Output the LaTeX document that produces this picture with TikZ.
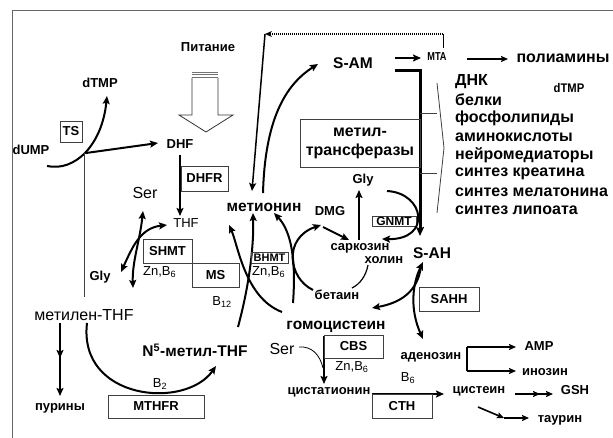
\documentclass[tikz,border=0pt]{standalone}
\usepackage{fontspec}
\setmainfont{Liberation Sans}
\usetikzlibrary{arrows.meta}
\tikzset{
  lb/.style={font=\bfseries\fontsize{13}{15}\selectfont, inner sep=0pt},
  lbb/.style={font=\bfseries\fontsize{15.5}{17}\selectfont, inner sep=0pt},
  lbl/.style={font=\bfseries\fontsize{16}{18.4}\selectfont, inner sep=0pt, anchor=west},
  rg/.style={font=\fontsize{16}{18}\selectfont, inner sep=0pt},
  rgs/.style={font=\fontsize{13}{15}\selectfont, inner sep=0pt},
  ebox/.style={draw=black!75, line width=0.8pt, font=\bfseries\fontsize{13}{15}\selectfont, inner sep=0pt},
  sbox/.style={draw=black!75, line width=0.8pt, font=\bfseries\fontsize{11}{12}\selectfont, inner sep=0pt},
  ar/.style={line width=2pt, -{Stealth[length=8pt,width=7pt,inset=1.5pt]}},
  dar/.style={line width=2pt, {Stealth[length=8pt,width=7pt,inset=1.5pt]}-{Stealth[length=8pt,width=7pt,inset=1.5pt]}},
  tar/.style={line width=1.6pt, -{Stealth[length=7pt,width=6pt,inset=1.2pt]}},
  thin/.style={line width=0.8pt, black!75},
}
\begin{document}
\begin{tikzpicture}[x=1pt,y=-1pt]
\useasboundingbox (0,0) rectangle (613,438);
\fill[white] (0,0) rectangle (613,438);
% frame
\draw[black!60, line width=1pt] (12,438) -- (12,11) -- (613,11);

% nutrition block arrow
\node[lb] (pit) at (208,47) {Питание};
\draw[black!55, line width=0.8pt] (192,72) -- (218,72) (192,74.5) -- (218,74.5) (192,77) -- (218,77);
\draw[black!80, line width=0.8pt] (192,78) -- (192,115) -- (179,115) -- (206,132) -- (233,115) -- (218,115) -- (218,78);

% left: dUMP / dTMP / DHF
\node[lb] (dtmp) at (100,83) {dTMP};
\node[ebox, minimum width=22, minimum height=21] (ts) at (71,131.5) {TS};
\node[lb] (dump) at (31,150) {dUMP};
\coordinate (c1) at (47,166);
\coordinate (c2) at (107,96);
\draw[ar] (c1) .. controls (75,172) and (102,145) .. (c2);
\coordinate (j1) at (84,153);
\coordinate (j2) at (84,297);
\draw[thin] (j1) -- (j2);
\node[lb] (dhf) at (180,144) {DHF};
\coordinate (d1) at (86,153);
\coordinate (d2) at (158,143);
\draw[ar] (d1) -- (d2);
\coordinate (f1) at (180,155);
\coordinate (f2) at (180,216);
\draw[ar] (f1) -- (f2);
\node[ebox, minimum width=47, minimum height=25] (dhfr) at (204.5,178.5) {DHFR};
\node[rg] (ser1) at (145,193) {Ser};
\node[rgs] (thf) at (186,223) {THF};
\coordinate (s1) at (143,211);
\coordinate (s2) at (133,288);
\draw[dar] (s1) .. controls (140,240) and (132,262) .. (s2);
\coordinate (g1) at (121,272);
\coordinate (g2) at (167,225);
\draw[dar] (g1) .. controls (132,248) and (140,228) .. (g2);
\node[ebox, minimum width=49, minimum height=24] (shmt) at (167.5,251) {SHMT};
\node[rgs, anchor=west] (zn1) at (143,272) {Zn,B\textsubscript{6}};
\node[ebox, minimum width=47, minimum height=24] (ms) at (215.5,275) {MS};
\node[rgs] (b12) at (222,302) {B\textsubscript{12}};
\node[lb] (gly1) at (100,277) {Gly};

% methylene-THF
\node[rg] (mthf) at (84,315) {метилен-THF};
\coordinate (p1) at (60,323);
\coordinate (p2) at (60,358);
\coordinate (p3) at (60,350);
\coordinate (p4) at (60,396);
\draw[ar] (p1) -- (p2);
\draw[ar] (p3) -- (p4);
\node[lb] (pur) at (60,408) {пурины};
\node[ebox, minimum width=96, minimum height=23] (mthfr) at (156,406.5) {MTHFR};
\node[rgs] (b2) at (160,384) {B\textsubscript{2}};
\coordinate (m1) at (87,323);
\coordinate (m2) at (216,366);
\draw[ar] (m1) .. controls (78,400) and (185,410) .. (m2);
\node[lbb] (n5) at (195,350) {N\textsuperscript{5}-метил-THF};

% methionine cycle
\node[lbb] (met) at (264,207) {метионин};
\coordinate (a1) at (238,327);
\coordinate (a2) at (253,213);
\draw[ar] (a1) .. controls (248,290) and (254,250) .. (a2);
\coordinate (b1) at (282,312);
\coordinate (b2p) at (229,225);
\draw[ar] (b1) .. controls (245,298) and (238,245) .. (b2p);
\coordinate (cc1) at (293,303);
\coordinate (cc2) at (274,213);
\draw[ar] (cc1) .. controls (296,262) and (292,232) .. (cc2);
\coordinate (e1) at (313,290);
\coordinate (e2) at (321,225);
\draw[ar] (e1) .. controls (288,278) and (283,238) .. (e2);
\node[sbox, minimum width=37, minimum height=11] (bhmt) at (269.5,258) {BHMT};
\node[rgs, anchor=west] (zn2) at (252,272) {Zn,B\textsubscript{6}};

\node[lb] (dmg) at (330,211) {DMG};
\coordinate (k1) at (323,227);
\coordinate (k2) at (349,240);
\draw[ar] (k1) -- (k2);
\node[lb] (sark) at (360,248) {саркозин};
\node[lb] (hol) at (384,260) {холин};
\node[lb] (bet) at (337,295) {бетаин};
\coordinate (u1) at (359,240);
\coordinate (u2) at (359,190);
\draw[ar] (u1) -- (u2);
\node[lb] (gly2) at (363,180) {Gly};
\node[sbox, font=\bfseries\fontsize{12}{13}\selectfont, minimum width=44, minimum height=10] (gnmt) at (394,221) {GNMT};
\coordinate (v1) at (387,191);
\coordinate (v2) at (382,239);
\draw[ar] (v1) .. controls (425,193) and (432,240) .. (v2);
\coordinate (h1) at (368,265);
\coordinate (h2) at (352,288);
\draw[line width=1.2pt] (h1) .. controls (366,276) and (360,284) .. (h2);

% SAM
\node[lbb] (sam) at (353,63) {S-AM};
\coordinate (w1) at (263,193);
\coordinate (w2) at (318,64);
\draw[ar] (w1) .. controls (265,120) and (285,85) .. (w2);
\coordinate (t1) at (395,71);
\coordinate (t2) at (420,71);
\coordinate (t3) at (420,236);
\draw[line width=3pt, -{Stealth[length=9pt,width=8pt,inset=1.5pt]}] (t1) -- (t2) -- (t3);
\coordinate (q1) at (395,58);
\coordinate (q2) at (421,58);
\draw[ar] (q1) -- (q2);
\node[lb, font=\bfseries\fontsize{11.5}{13}\selectfont] (mta) at (437,57) {\scalebox{0.8}[1]{MTA}};
\coordinate (r1) at (467,59);
\coordinate (r2) at (508,59);
\draw[tar] (r1) -- (r2);
\node[lb, font=\bfseries\fontsize{16}{18}\selectfont] (pol) at (563,58) {полиамины};
% MTA salvage
\coordinate (x1) at (443,48);
\coordinate (x2) at (443,34);
\coordinate (x3) at (265,34);
\coordinate (x4) at (252,191);
\draw[line width=0.8pt] (x1) -- (x2);
\draw[line width=1.6pt, dash pattern=on 1pt off 1pt, -{Stealth[length=7pt,width=6pt]}] (x2) -- (x3);
\draw[line width=1.5pt, -{Stealth[length=8pt,width=7pt,inset=1.5pt]}] (x3) -- (x4);

% methyltransferases
\node[draw=black!75, line width=0.8pt, minimum width=120, minimum height=48, inner sep=0pt, align=center, font=\bfseries\fontsize{16}{19}\selectfont] (mtr) at (360,143) {метил-\\трансферазы};
\coordinate (y1) at (420,113);
\coordinate (y2) at (437,113);
\coordinate (y3) at (420,173);
\coordinate (y4) at (437,173);
\draw[thin] (y1) -- (y2) (y3) -- (y4);
\coordinate (z1) at (437,83);
\coordinate (z2) at (444,148);
\coordinate (z3) at (437,213);
\draw[thin] (z1) -- (z2) -- (z3);

% right list
\node[lbl] (l1) at (455,82) {ДНК};
\node[lb, font=\bfseries\fontsize{12.5}{13}\selectfont] (dtmp2) at (569,88) {\scalebox{0.9}[1]{dTMP}};
\node[lbl] (l2) at (455,100) {белки};
\node[lbl] (l3) at (455,118.5) {фосфолипиды};
\node[lbl] (l4) at (455,137) {аминокислоты};
\node[lbl] (l5) at (455,155) {нейромедиаторы};
\node[lbl] (l6) at (455,173.5) {синтез креатина};
\node[lbl] (l7) at (455,192) {синтез мелатонина};
\node[lbl] (l8) at (455,210) {синтез липоата};

% SAH
\node[lbb] (sah) at (432,253) {S-AH};
\node[ebox, minimum width=60, minimum height=24] (sahh) at (449,299) {SAHH};
\coordinate (o1) at (423,339);
\coordinate (o2) at (423,262);
\draw[dar] (o1) .. controls (410,310) and (412,285) .. (o2);
\coordinate (o3) at (421,266);
\coordinate (o4) at (372,308);
\draw[ar] (o3) .. controls (418,292) and (400,303) .. (o4);

% homocysteine
\node[lbb] (hcy) at (336,327) {гомоцистеин};
\node[rg] (ser2) at (282,349) {Ser};
\coordinate (sr1) at (299,347);
\coordinate (sr2) at (323,368);
\draw[line width=0.8pt] (sr1) .. controls (312,346) and (320,355) .. (sr2);
\coordinate (cb1) at (324,336);
\coordinate (cb2) at (324,384);
\draw[ar] (cb1) -- (cb2);
\node[ebox, minimum width=59, minimum height=23] (cbs) at (353.5,346.5) {CBS};
\node[rgs] (zn3) at (352,367) {Zn,B\textsubscript{6}};
\node[lb] (cyst) at (329,392) {цистатионин};
\coordinate (ct1) at (372,394);
\coordinate (ct2) at (444,394);
\draw[ar] (ct1) -- (ct2);
\node[ebox, minimum width=60, minimum height=24] (cth) at (402,406) {CTH};
\node[rgs] (b6) at (408,378) {B\textsubscript{6}};

% adenosine
\node[lb] (aden) at (431,357) {аденозин};
\coordinate (ad1) at (467,347);
\coordinate (ad2) at (467,371);
\coordinate (ad3) at (516,347);
\coordinate (ad4) at (516,371);
\draw[line width=1.6pt] (ad1) -- (ad2);
\draw[tar] (ad1) -- (ad3);
\draw[tar] (ad2) -- (ad4);
\node[lb] (amp) at (539,346) {AMP};
\node[lb] (ino) at (545,372) {инозин};
\node[lb] (cys) at (479,391) {цистеин};
\coordinate (gs1) at (515,394);
\coordinate (gs2) at (540,394);
\coordinate (gs3) at (534,394);
\coordinate (gs4) at (553,394);
\draw[tar] (gs1) -- (gs2);
\draw[tar] (gs3) -- (gs4);
\node[lb] (gsh) at (575,390) {GSH};
\coordinate (ta1) at (478,407);
\coordinate (ta2) at (504,418);
\coordinate (ta3) at (529,418);
\draw[tar] (ta1) -- (ta2);
\draw[tar] (ta2) -- (ta3);
\node[lb] (tau) at (560,420) {таурин};
\end{tikzpicture}
\end{document}
